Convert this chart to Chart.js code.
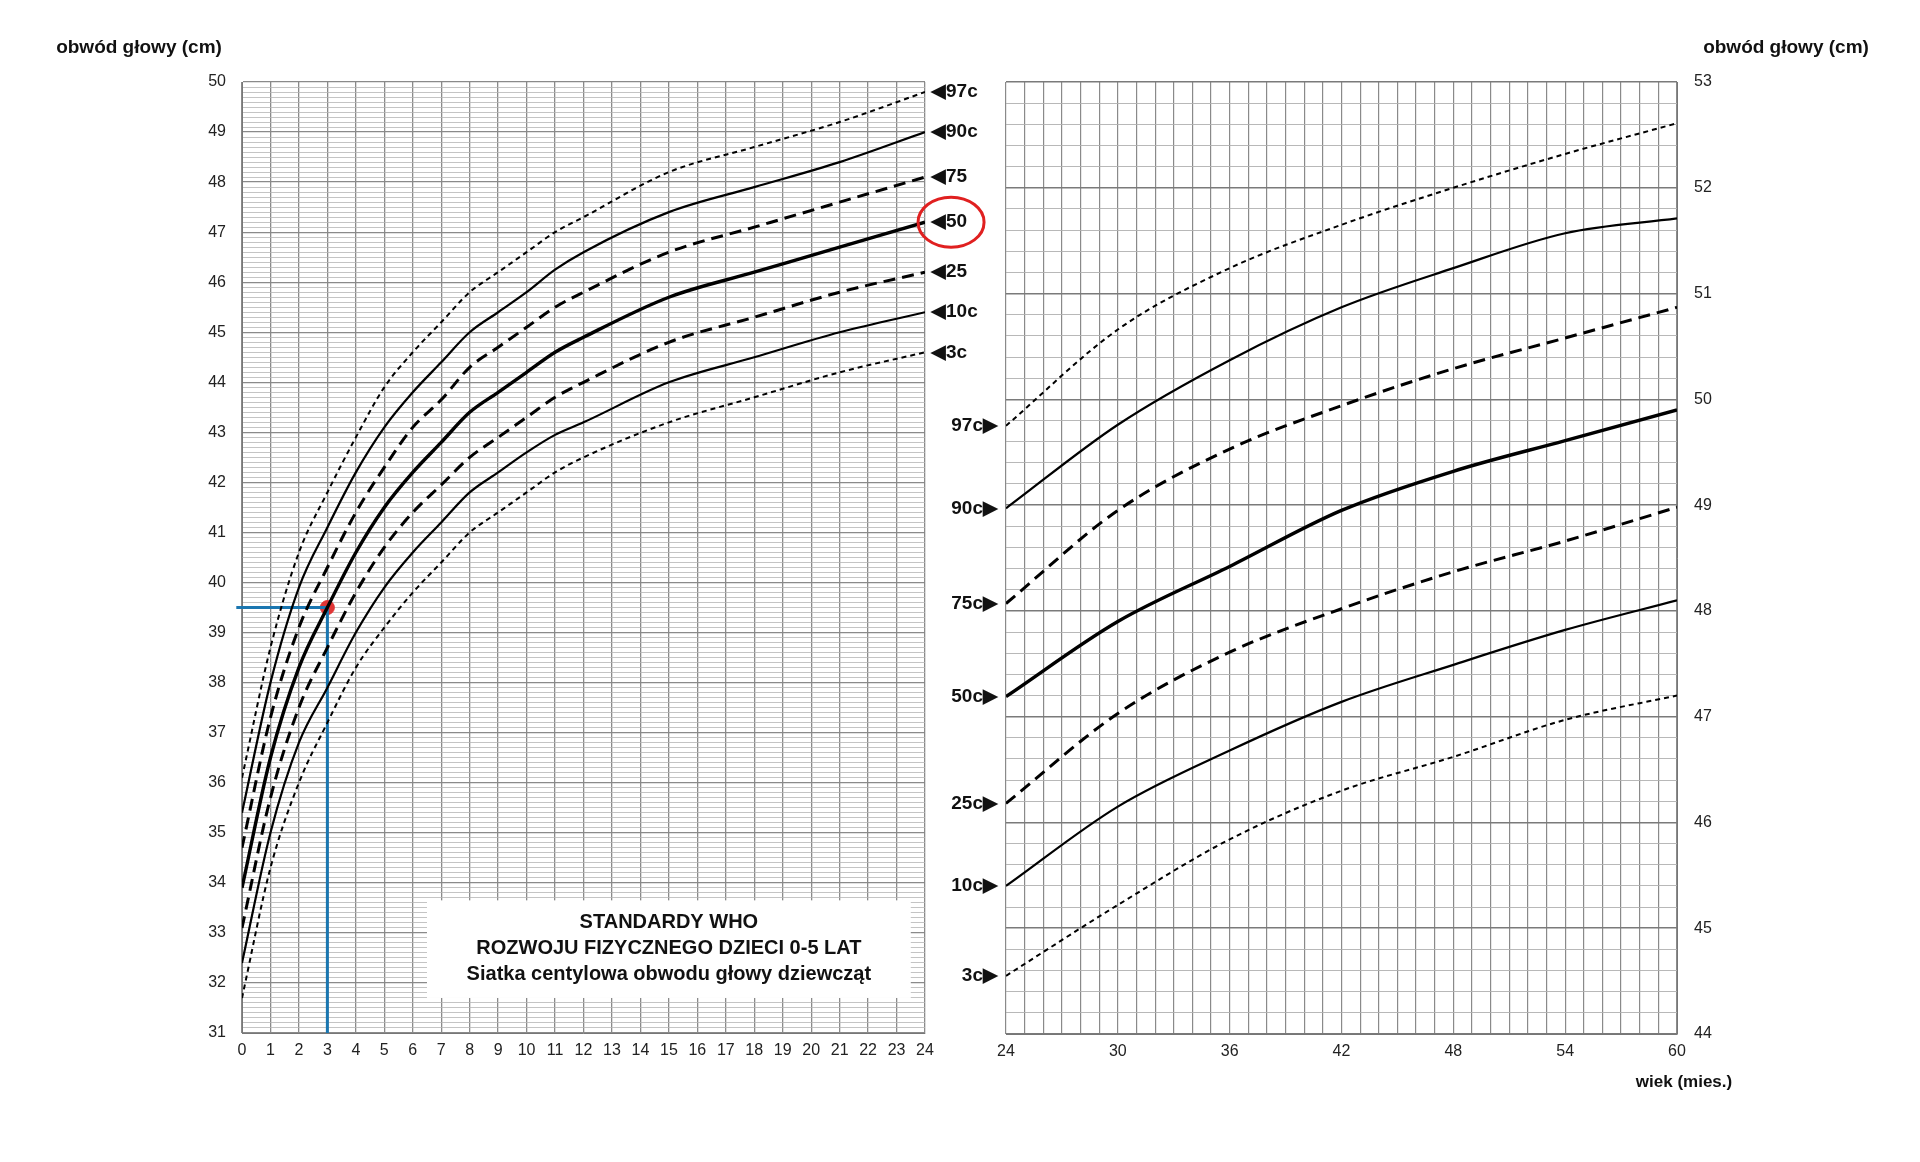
<!DOCTYPE html>
<html><head><meta charset="utf-8">
<script src="https://cdn.jsdelivr.net/npm/chart.js@4"></script>
<style>
body{margin:0;background:#fff;width:1920px;height:1162px;overflow:hidden;font-family:"Liberation Sans",Arial,sans-serif}
.c{position:absolute;top:0;height:1110px}
.t{position:absolute;font-weight:bold;font-size:19px;color:#111;white-space:nowrap;transform:translateX(-50%)}
</style></head><body>
<div class="c" style="left:0;width:1010px"><canvas id="a"></canvas></div>
<div class="c" style="left:920px;width:1000px"><canvas id="b"></canvas></div>
<div class="t" style="left:139px;top:36px">obwód głowy (cm)</div>
<div class="t" style="left:1786px;top:36px">obwód głowy (cm)</div>
<div class="t" style="left:1684px;top:1072px;font-size:17px">wiek (mies.)</div>
<script>
// ---- data ----
const monthsA = [0,1,2,3,4,5,6,7,8,9,10,11,12,15,18,21,24];
const p97A = [36.1,38.7,40.6,41.8,42.9,43.9,44.6,45.2,45.8,46.2,46.6,47.0,47.3,48.2,48.7,49.2,49.8];
const p90A = [35.4,38.0,39.9,41.1,42.2,43.1,43.8,44.4,45.0,45.4,45.8,46.25,46.6,47.4,47.9,48.4,49.0];
const p75A = [34.7,37.3,39.1,40.3,41.4,42.3,43.1,43.65,44.3,44.7,45.1,45.5,45.8,46.6,47.1,47.6,48.1];
const p50A = [33.9,36.5,38.3,39.5,40.6,41.5,42.2,42.8,43.4,43.8,44.2,44.6,44.9,45.7,46.2,46.7,47.2];
const p25A = [33.1,35.7,37.5,38.7,39.8,40.7,41.4,41.95,42.5,42.9,43.3,43.7,44.0,44.8,45.3,45.8,46.2];
const p10A = [32.4,35.0,36.8,37.9,39.0,39.9,40.6,41.2,41.8,42.2,42.6,42.95,43.2,44.0,44.5,45.0,45.4];
const p3A  = [31.7,34.3,36.0,37.2,38.3,39.1,39.8,40.4,41.0,41.4,41.8,42.2,42.5,43.2,43.7,44.2,44.6];
const monthsB = [24,30,36,42,48,54,60];
const p97B = [49.75,50.66,51.24,51.65,52.0,52.32,52.61];
const p90B = [48.97,49.76,50.37,50.87,51.24,51.57,51.71];
const p75B = [48.07,48.95,49.53,49.94,50.29,50.58,50.87];
const p50B = [47.19,47.9,48.42,48.95,49.32,49.61,49.9];
const p25B = [46.18,47.03,47.61,48.02,48.37,48.66,48.98];
const p10B = [45.4,46.15,46.68,47.14,47.49,47.82,48.1];
const p3B  = [44.55,45.22,45.84,46.3,46.62,46.97,47.2];
const labelsA = ['◀97c','◀90c','◀75','◀50','◀25','◀10c','◀3c'];
const labelsB = ['97c▶','90c▶','75c▶','50c▶','25c▶','10c▶','3c▶'];
const pointAge = 3, pointHC = 39.5;
const titleLines = ['STANDARDY WHO','ROZWOJU FIZYCZNEGO DZIECI 0-5 LAT','Siatka centylowa obwodu głowy dziewcząt'];

const styles = [
 {w:2,d:[5,4]},{w:2.2,d:[]},{w:3,d:[12,7]},{w:3.4,d:[]},{w:3,d:[12,7]},{w:2.2,d:[]},{w:2,d:[5,4]}];
const isInt=v=>Math.abs(v-Math.round(v))<1e-6;
function mk(xs, series){
  return series.map((s,i)=>({data:xs.map((x,j)=>({x,y:s[j]})),borderColor:'#000',borderWidth:styles[i].w,
    borderDash:styles[i].d,pointRadius:0,cubicInterpolationMode:'monotone',fill:false}));
}
const font={family:'"Liberation Sans",Arial,sans-serif',size:16};
const tickCol='#222';

const setA = mk(monthsA,[p97A,p90A,p75A,p50A,p25A,p10A,p3A]);
setA.push({data:[{x:-0.2,y:pointHC},{x:pointAge,y:pointHC},{x:pointAge,y:31}],borderColor:'#1a76b0',borderWidth:3,pointRadius:0,tension:0,clip:false});
setA.push({data:[{x:pointAge,y:pointHC}],pointRadius:7,pointBackgroundColor:'#e03535',pointBorderColor:'#e03535',showLine:false});

const plugA={id:'pa',
 beforeDatasetsDraw(c){const x=c.scales.x,y=c.scales.y,g=c.ctx;
   const l=x.getPixelForValue(6.5),r=x.getPixelForValue(23.5),t=y.getPixelForValue(33.65),b=y.getPixelForValue(31.7);
   g.save();g.fillStyle='#fff';g.fillRect(l,t,r-l,b-t);
   g.fillStyle='#111';g.font='bold 20px "Liberation Sans",Arial';g.textAlign='center';g.textBaseline='middle';
   const cx=(l+r)/2;titleLines.forEach((s,i)=>g.fillText(s,cx,t+22+i*26));g.restore();},
 afterDatasetsDraw(c){const x=c.scales.x,y=c.scales.y,g=c.ctx;g.save();
   g.fillStyle='#111';g.font='bold 19px "Liberation Sans",Arial';g.textBaseline='middle';g.textAlign='left';
   const px=x.right+6;
   labelsA.forEach((s,i)=>{const d=c.data.datasets[i].data;const py=y.getPixelForValue(d[d.length-1].y);g.fillText(s,px,py);
     if(i===3){const w=g.measureText(s).width;g.strokeStyle='#e02020';g.lineWidth=3;g.beginPath();g.ellipse(px+w/2+2,py,33,25,0,0,Math.PI*2);g.stroke();}});
   g.restore();}};

new Chart(document.getElementById('a'),{type:'line',data:{datasets:setA},plugins:[plugA],
 options:{responsive:true,maintainAspectRatio:false,animation:false,events:[],
  layout:{padding:{top:82,right:85,bottom:37,left:0}},
  plugins:{legend:{display:false},tooltip:{enabled:false}},
  scales:{
   x:{type:'linear',min:0,max:24,ticks:{stepSize:1,autoSkip:false,maxRotation:0,font,color:tickCol,padding:8},
      grid:{color:'#8a8a8a',lineWidth:1.3,drawTicks:false},border:{color:'#777'},afterFit(s){s.height=40;}},
   y:{min:31,max:50,ticks:{stepSize:0.1,autoSkip:false,maxTicksLimit:1000,font,color:tickCol,padding:16,
        callback:v=>isInt(v)?Math.round(v):''},
      grid:{color:ctx=>isInt(ctx.tick.value)?'#8a8a8a':'#b5b5b5',lineWidth:ctx=>isInt(ctx.tick.value)?1.3:0.8,drawTicks:false},
      border:{color:'#777'},afterFit(s){s.width=242;}}}}});

const setB = mk(monthsB,[p97B,p90B,p75B,p50B,p25B,p10B,p3B]);
const plugB={id:'pb',afterDatasetsDraw(c){const x=c.scales.x,y=c.scales.y,g=c.ctx;g.save();
   g.fillStyle='#111';g.font='bold 19px "Liberation Sans",Arial';g.textBaseline='middle';g.textAlign='right';
   labelsB.forEach((s,i)=>{g.fillText(s,x.left-8,y.getPixelForValue(c.data.datasets[i].data[0].y));});g.restore();}};
new Chart(document.getElementById('b'),{type:'line',data:{datasets:setB},plugins:[plugB],
 options:{responsive:true,maintainAspectRatio:false,animation:false,events:[],
  layout:{padding:{top:82,right:0,bottom:36,left:86}},
  plugins:{legend:{display:false},tooltip:{enabled:false}},
  scales:{
   x:{type:'linear',min:24,max:60,ticks:{stepSize:1,autoSkip:false,maxRotation:0,minRotation:0,maxTicksLimit:1000,font,color:tickCol,padding:8,
        callback:v=>(v%6===0)?v:''},
      grid:{color:'#8a8a8a',lineWidth:1.2,drawTicks:false},border:{color:'#777'},afterFit(s){s.height=40;}},
   y:{position:'right',min:44,max:53,ticks:{stepSize:0.2,autoSkip:false,maxTicksLimit:1000,font,color:tickCol,padding:17,
        callback:v=>isInt(v)?Math.round(v):''},
      grid:{color:ctx=>isInt(ctx.tick.value)?'#7a7a7a':'#b0b0b0',lineWidth:ctx=>isInt(ctx.tick.value)?1.5:0.9,drawTicks:false},
      border:{color:'#777'},afterFit(s){s.width=243;}}}}});
</script></body></html>
